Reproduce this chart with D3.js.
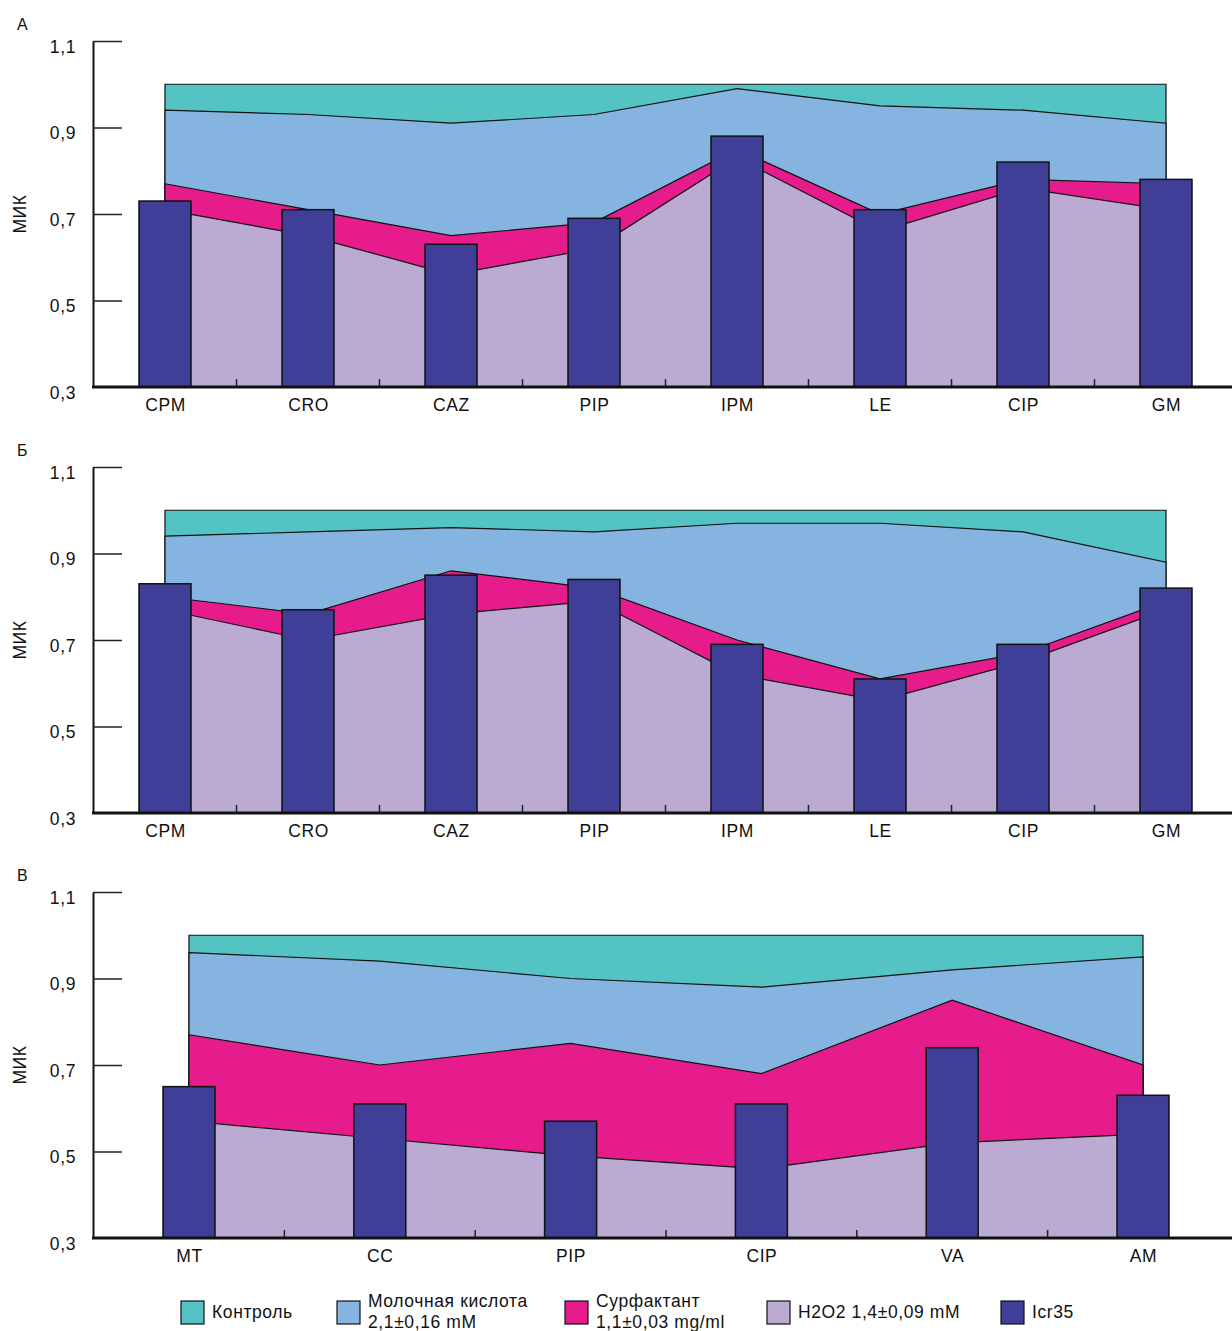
<!DOCTYPE html>
<html>
<head>
<meta charset="utf-8">
<script src="https://cdn.jsdelivr.net/npm/d3@7"></script>
<style>
  body { margin: 0; background: #fff; }
  svg { display: block; font-family: "Liberation Sans", Arial, Helvetica, sans-serif; }
  .tick text { font-size: 17.5px; fill: #111; letter-spacing: 0.6px; }
  .lbl { font-size: 17.5px; fill: #111; letter-spacing: 0.6px; }
</style>
</head>
<body>
<svg id="chart" width="1232" height="1331"></svg>
<script>
// panel A
const catsA = ["CPM", "CRO", "CAZ", "PIP", "IPM", "LE", "CIP", "GM"];
const controlA = [1, 1, 1, 1, 1, 1, 1, 1];
const lacticA = [0.94, 0.93, 0.91, 0.93, 0.99, 0.95, 0.94, 0.91];
const surfA = [0.77, 0.71, 0.65, 0.68, 0.85, 0.70, 0.78, 0.77];
const h2o2A = [0.71, 0.65, 0.56, 0.62, 0.83, 0.66, 0.76, 0.71];
const icrA = [0.73, 0.71, 0.63, 0.69, 0.88, 0.71, 0.82, 0.78];

// panel B
const catsB = ["CPM", "CRO", "CAZ", "PIP", "IPM", "LE", "CIP", "GM"];
const controlB = [1, 1, 1, 1, 1, 1, 1, 1];
const lacticB = [0.94, 0.95, 0.96, 0.95, 0.97, 0.97, 0.95, 0.88];
const surfB = [0.80, 0.76, 0.86, 0.82, 0.70, 0.61, 0.67, 0.79];
const h2o2B = [0.77, 0.70, 0.76, 0.79, 0.62, 0.56, 0.65, 0.77];
const icrB = [0.83, 0.77, 0.85, 0.84, 0.69, 0.61, 0.69, 0.82];

// panel C
const catsC = ["MT", "CC", "PIP", "CIP", "VA", "AM"];
const controlC = [1, 1, 1, 1, 1, 1];
const lacticC = [0.96, 0.94, 0.90, 0.88, 0.92, 0.95];
const surfC = [0.77, 0.70, 0.75, 0.68, 0.85, 0.70];
const h2o2C = [0.57, 0.53, 0.49, 0.46, 0.52, 0.54];
const icrC = [0.65, 0.61, 0.57, 0.61, 0.74, 0.63];

const yTicks = [0.3, 0.5, 0.7, 0.9, 1.1];
const seriesNames = ["Контроль", "Молочная кислота|2,1±0,16 mM", "Сурфактант|1,1±0,03 mg/ml", "H2O2 1,4±0,09 mM", "Icr35"];
const colors = ["#53c3c3", "#86b4e0", "#e61c8c", "#bbaad2", "#3f3f97"];

const svg = d3.select("#chart");

function panel(letter, top, cats, layers, bars, xRange) {
	const g = svg.append("g");
	const y = d3.scaleLinear().domain([0.3, 1.1]).range([top + 346, top]);
	const x = d3.scalePoint().domain(cats).range(xRange);

	g.append("text").attr("class", "lbl").attr("x", 17).attr("y", top - 11)
		.style("font-size", "16px").text(letter);

	g.append("text")
		.attr("class", "lbl")
		.attr("transform", `translate(26, ${y(0.7)}) rotate(-90)`)
		.attr("text-anchor", "middle")
		.text("МИК");

	const area = d3.area()
		.x((d, i) => x(cats[i]))
		.y0(y(0.3))
		.y1((d) => y(d));

	layers.forEach((vals, k) => {
		g.append("path")
			.datum(vals)
			.attr("d", area)
			.attr("fill", colors[k])
			.attr("stroke", "#111")
			.attr("stroke-width", 1.2);
	});

	g.selectAll("rect.bar")
		.data(bars)
		.enter()
		.append("rect")
		.attr("class", "bar")
		.attr("x", (d, i) => x(cats[i]) - 26)
		.attr("width", 52)
		.attr("y", (d) => y(d))
		.attr("height", (d) => y(0.3) - y(d))
		.attr("fill", colors[4])
		.attr("stroke", "#111")
		.attr("stroke-width", 1.5);

	// y axis, ticks pointing inward
	const ya = g.append("g")
		.attr("transform", "translate(93,0)")
		.call(d3.axisLeft(y).tickValues(yTicks).tickSize(-29).tickSizeOuter(0).tickPadding(17)
			.tickFormat((d) => d.toFixed(1).replace(".", ",")));
	ya.select(".domain").attr("stroke", "#111").attr("stroke-width", 2);
	ya.selectAll(".tick line").attr("stroke", "#222").attr("stroke-width", 1.5)
		.filter((d) => d === 0.3).remove();
	ya.selectAll(".tick text").attr("dy", 11);

	// x axis
	const xa = g.append("g")
		.attr("transform", `translate(0,${y(0.3)})`)
		.call(d3.axisBottom(x).tickSize(0).tickPadding(12));
	xa.select(".domain").remove();
	xa.selectAll(".tick text").attr("dy", "0.71em");

	const mids = d3.pairs(cats).map(([a, b]) => (x(a) + x(b)) / 2);
	g.selectAll("line.mid")
		.data(mids)
		.enter()
		.append("line")
		.attr("x1", (d) => d).attr("x2", (d) => d)
		.attr("y1", y(0.3)).attr("y2", y(0.3) - 8)
		.attr("stroke", "#222").attr("stroke-width", 1.5);

	g.append("line")
		.attr("x1", 92).attr("x2", 1232)
		.attr("y1", y(0.3)).attr("y2", y(0.3))
		.attr("stroke", "#111").attr("stroke-width", 3);
}

panel("А", 41, catsA, [controlA, lacticA, surfA, h2o2A], icrA, [165, 1166]);
panel("Б", 467, catsB, [controlB, lacticB, surfB, h2o2B], icrB, [165, 1166]);
panel("В", 892, catsC, [controlC, lacticC, surfC, h2o2C], icrC, [189, 1143]);

// legend
const legendX = [181, 337, 565, 767, 1001];
const leg = svg.selectAll("g.leg")
	.data(seriesNames)
	.enter()
	.append("g")
	.attr("class", "leg")
	.attr("transform", (d, i) => `translate(${legendX[i]},1301)`);

leg.append("rect")
	.attr("width", 23).attr("height", 23)
	.attr("fill", (d, i) => colors[i])
	.attr("stroke", "#111").attr("stroke-width", 1.2);

leg.each(function (d) {
	const lines = d.split("|");
	const t = d3.select(this).append("text").attr("class", "lbl").attr("x", 31);
	if (lines.length === 1) {
		t.attr("y", 17).text(lines[0]);
	} else {
		lines.forEach((s, j) => {
			t.append("tspan").attr("x", 31).attr("y", 6 + j * 21).text(s);
		});
	}
});
</script>
</body>
</html>
